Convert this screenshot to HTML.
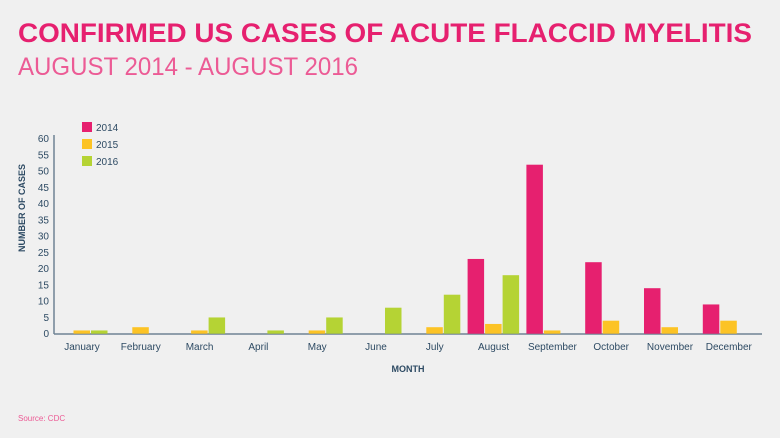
<!DOCTYPE html><html><head><style>
body{margin:0;background:#f0f0f0;}
svg{display:block;font-family:"Liberation Sans",sans-serif;}
</style></head><body>
<svg width="780" height="438" xmlns="http://www.w3.org/2000/svg">
<rect width="780" height="438" fill="#f0f0f0"/>
<text x="18" y="42" font-size="27" font-weight="bold" fill="#e6206f" textLength="734" lengthAdjust="spacingAndGlyphs">CONFIRMED US CASES OF ACUTE FLACCID MYELITIS</text>
<text x="18" y="75" font-size="25" fill="#ec5b95" textLength="340" lengthAdjust="spacingAndGlyphs">AUGUST 2014 - AUGUST 2016</text>
<g font-size="10" fill="#2d4a63" text-anchor="end" id="yl"></g>
<line x1="54" y1="135" x2="54" y2="334" stroke="#6f8294" stroke-width="1.5"/>
<line x1="54" y1="334" x2="762" y2="334" stroke="#6f8294" stroke-width="1.5"/>
<g id="bars"></g>
<g font-size="10" fill="#2d4a63" text-anchor="middle" id="xl"></g>
<text transform="translate(25,208) rotate(-90)" font-size="9" font-weight="bold" fill="#2d4a63" text-anchor="middle">NUMBER OF CASES</text>
<text x="408" y="372" font-size="9" font-weight="bold" fill="#2d4a63" text-anchor="middle">MONTH</text>
<rect x="82" y="122" width="10" height="10" fill="#e6206f"/><text x="96" y="131" font-size="10" fill="#2d4a63">2014</text>
<rect x="82" y="139" width="10" height="10" fill="#fcc325"/><text x="96" y="148" font-size="10" fill="#2d4a63">2015</text>
<rect x="82" y="156" width="10" height="10" fill="#b5d334"/><text x="96" y="165" font-size="10" fill="#2d4a63">2016</text>
<text x="18" y="421" font-size="8" fill="#ec5b95">Source: CDC</text>
</svg>
<script>
var ns="http://www.w3.org/2000/svg";
function el(p,t,a,txt){var e=document.createElementNS(ns,t);for(var k in a)e.setAttribute(k,a[k]);if(txt!=null)e.textContent=txt;document.getElementById(p).appendChild(e);}
var y0=333.7,s=3.25;
for(var v=0;v<=60;v+=5)el("yl","text",{x:49,y:y0-v*s+3.5},v);
var m=["January","February","March","April","May","June","July","August","September","October","November","December"];
var d=[[null,null,null,null,null,null,null,23,52,22,14,9],[1,2,1,0,1,0,2,3,1,4,2,4],[1,0,5,1,5,8,12,18,null,null,null,null]];
var c=["#e6206f","#fcc325","#b5d334"];
for(var i=0;i<12;i++){var x=56+i*58.8;
for(var j=0;j<3;j++){var v=d[j][i];if(v)el("bars","rect",{x:x+j*17.5,y:y0-v*s,width:16.5,height:v*s,fill:c[j]});}
el("xl","text",{x:x+26,y:350},m[i]);}
</script>
</body></html>
